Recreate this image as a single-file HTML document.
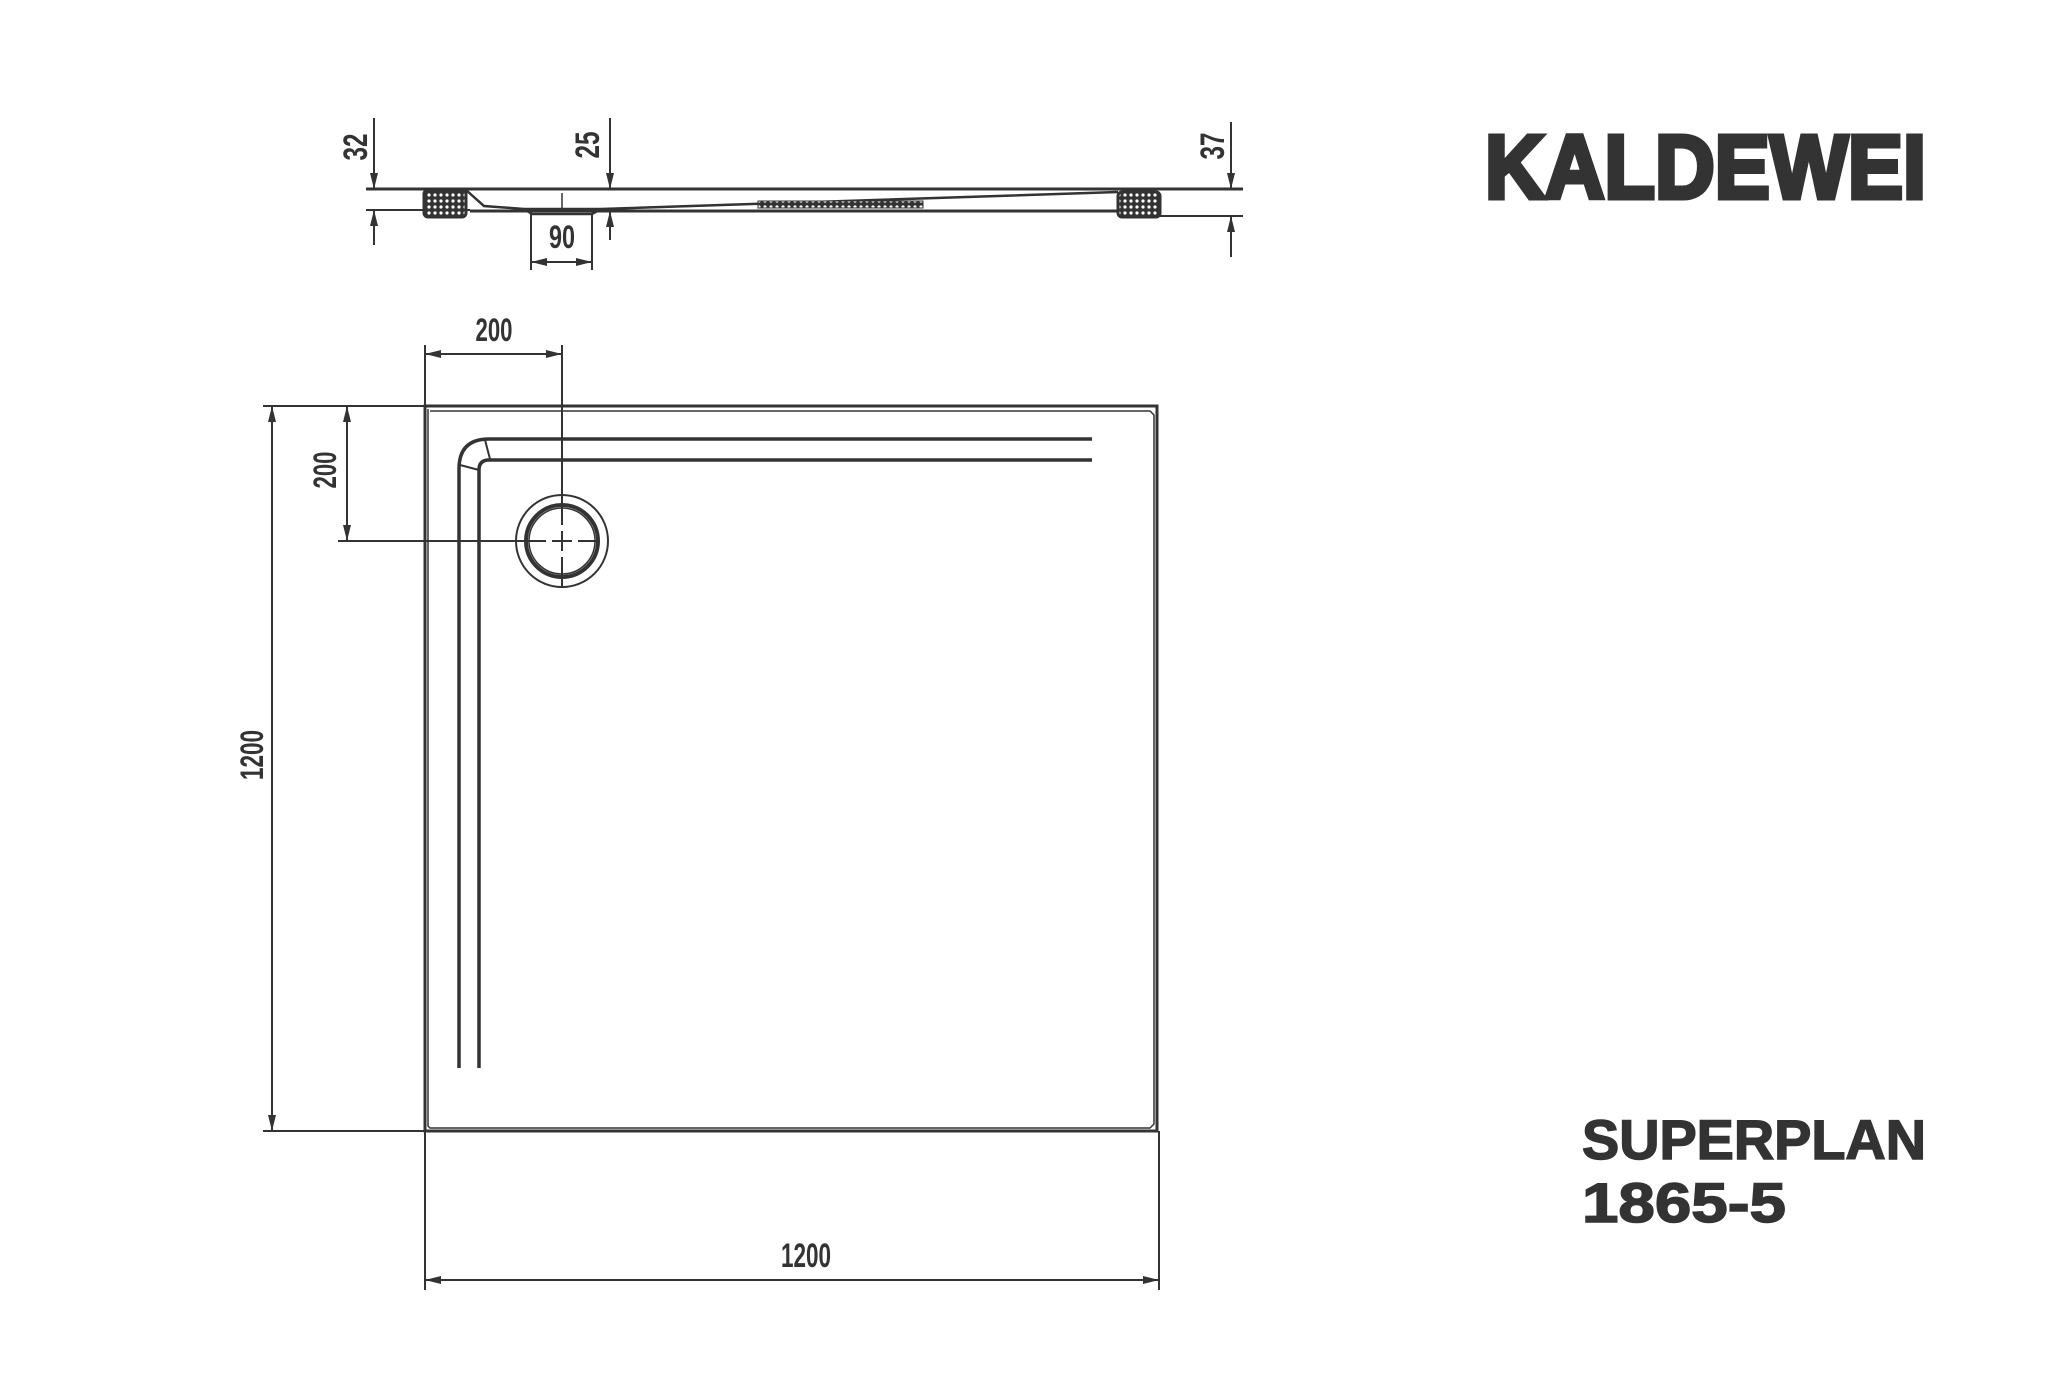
<!DOCTYPE html>
<html><head><meta charset="utf-8"><style>
html,body{margin:0;padding:0;background:#fff;}
svg{display:block;}
text{font-family:"Liberation Sans",sans-serif;fill:#333;}
</style></head><body>
<svg width="2048" height="1374" viewBox="0 0 2048 1374" xmlns="http://www.w3.org/2000/svg">
<defs>
<marker id="a" viewBox="0 0 16 8" refX="16" refY="4" markerWidth="16" markerHeight="8" markerUnits="userSpaceOnUse" orient="auto-start-reverse"><path d="M0,0 L16,4 L0,8 Z" fill="#333"/></marker>
<pattern id="dots" width="6" height="6" patternUnits="userSpaceOnUse"><rect width="6" height="6" fill="#333"/><circle cx="3" cy="3" r="1.6" fill="#fff"/></pattern>
</defs>
<g stroke="#333" fill="none" stroke-width="2">
<line x1="366" y1="189" x2="1243" y2="189" stroke-width="3"/>
<line x1="366" y1="210" x2="470" y2="210"/>
<line x1="470" y1="211" x2="1118" y2="211" stroke-width="3"/>
<line x1="1160" y1="216" x2="1243" y2="216"/>
<path d="M466,190 L484,206 L524,209 L601,209 L1118,192" stroke-width="2.5"/>
<path d="M524,209 L532,214 L592,214 L601,209" stroke-width="2.5"/>
<line x1="562" y1="193" x2="562" y2="212" stroke-width="1.5"/>
<rect x="424" y="190" width="42" height="27" rx="4" fill="url(#dots)" stroke="#333" stroke-width="3"/>
<rect x="1118" y="192" width="42" height="25" rx="4" fill="url(#dots)" stroke="#333" stroke-width="3"/>
<rect x="758" y="201" width="165" height="7" fill="url(#dots)" stroke="#333" stroke-width="1"/>
<line x1="374" y1="118" x2="374" y2="189" marker-end="url(#a)"/>
<line x1="374" y1="245" x2="374" y2="210" marker-end="url(#a)"/>
<line x1="610" y1="118" x2="610" y2="189" marker-end="url(#a)"/>
<line x1="610" y1="240" x2="610" y2="211" marker-end="url(#a)"/>
<line x1="1231" y1="122" x2="1231" y2="189" marker-end="url(#a)"/>
<line x1="1231" y1="257" x2="1231" y2="216" marker-end="url(#a)"/>
<line x1="531" y1="214" x2="531" y2="270"/>
<line x1="592" y1="214" x2="592" y2="270"/>
<line x1="531" y1="262" x2="592" y2="262" marker-start="url(#a)" marker-end="url(#a)"/>

<path d="M425,406 L1157,406 L1157,1131 L425,1131 Z" stroke-width="3"/>
<path d="M430,411 L1150,411 L1154,415 L1154,1124 L1150,1128 L430,1128 L428,1126 L428,409" stroke-width="1.5"/>
<path d="M1092,439 L489,439 Q459,439 459,469 L459,1068" stroke-width="3.5"/>
<path d="M1092,460 L489,460 Q479,460 479,470 L479,1068" stroke-width="3.5"/>
<line x1="485" y1="440" x2="490" y2="459" stroke-width="2"/>
<line x1="460" y1="465" x2="479" y2="470" stroke-width="2"/>
<circle cx="562" cy="541" r="46" stroke-width="2"/>
<circle cx="562" cy="541" r="36" stroke-width="4"/>
<circle cx="562" cy="541" r="33" stroke-width="1.5"/>
<line x1="425" y1="345" x2="425" y2="406"/>
<line x1="562" y1="345" x2="562" y2="587" stroke-width="2"/>
<line x1="425" y1="354" x2="562" y2="354" marker-start="url(#a)" marker-end="url(#a)"/>
<line x1="263" y1="406" x2="425" y2="406"/>
<line x1="338" y1="541" x2="600" y2="541" stroke-width="2"/>
<line x1="347" y1="406" x2="347" y2="541" marker-start="url(#a)" marker-end="url(#a)"/>
<line x1="263" y1="1131" x2="425" y2="1131"/>
<line x1="272" y1="406" x2="272" y2="1131" marker-start="url(#a)" marker-end="url(#a)"/>
<line x1="425" y1="1131" x2="425" y2="1290"/>
<line x1="1159" y1="1131" x2="1159" y2="1290"/>
<line x1="425" y1="1280" x2="1159" y2="1280" marker-start="url(#a)" marker-end="url(#a)"/>
</g>
<g stroke="#fff" stroke-width="2"><line x1="552" y1="541" x2="546" y2="541"/><line x1="578" y1="541" x2="572" y2="541"/><line x1="562" y1="531" x2="562" y2="525"/><line x1="562" y1="557" x2="562" y2="551"/></g>

<g font-weight="bold" font-size="34">
<text x="356" y="147" transform="rotate(-90 356 147)" text-anchor="middle" dominant-baseline="central" textLength="27" lengthAdjust="spacingAndGlyphs">32</text>
<text x="588" y="145" transform="rotate(-90 588 145)" text-anchor="middle" dominant-baseline="central" textLength="27" lengthAdjust="spacingAndGlyphs">25</text>
<text x="1213" y="146" transform="rotate(-90 1213 146)" text-anchor="middle" dominant-baseline="central" textLength="27" lengthAdjust="spacingAndGlyphs">37</text>
<text x="562" y="248" text-anchor="middle" textLength="26" lengthAdjust="spacingAndGlyphs" font-size="32">90</text>
<text x="494" y="341" text-anchor="middle" textLength="37" lengthAdjust="spacingAndGlyphs" font-size="32">200</text>
<text x="325" y="470" transform="rotate(-90 325 470)" text-anchor="middle" dominant-baseline="central" textLength="37" lengthAdjust="spacingAndGlyphs" font-size="32">200</text>
<text x="252" y="755" transform="rotate(-90 252 755)" text-anchor="middle" dominant-baseline="central" textLength="50" lengthAdjust="spacingAndGlyphs" font-size="32">1200</text>
<text x="806" y="1267" text-anchor="middle" textLength="50" lengthAdjust="spacingAndGlyphs" font-size="34">1200</text>
</g>
<text x="1485" y="198" font-weight="bold" font-size="90" textLength="441" lengthAdjust="spacingAndGlyphs" stroke="#333" stroke-width="5" stroke-linejoin="miter">KALDEWEI</text>
<text x="1582" y="1159" font-weight="bold" font-size="56" textLength="344" lengthAdjust="spacingAndGlyphs" stroke="#333" stroke-width="1.5">SUPERPLAN</text>
<text x="1582" y="1222" font-weight="bold" font-size="56" textLength="204" lengthAdjust="spacingAndGlyphs" stroke="#333" stroke-width="1.5">1865-5</text>
</svg>
</body></html>
